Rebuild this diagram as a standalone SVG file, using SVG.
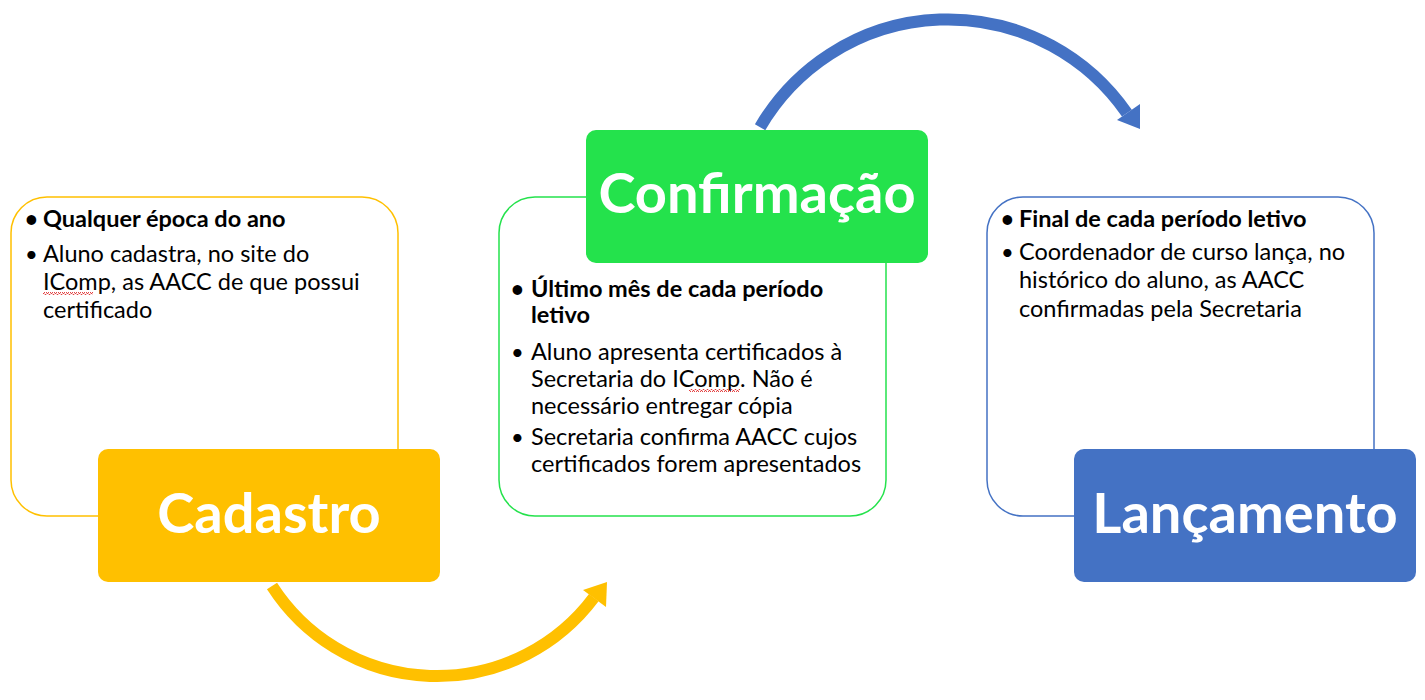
<svg xmlns="http://www.w3.org/2000/svg" width="1425" height="700" viewBox="0 0 1425 700">
<style>
.box{fill:#fff;stroke-width:1.5}
.t{font-family:Lato,"Liberation Sans",sans-serif;font-size:23.5px;fill:#000}
.b{font-weight:bold}
.u{font-size:22px}
.lbl{font-family:Lato,"Liberation Sans",sans-serif;font-size:56px;font-weight:bold;fill:#fff;text-anchor:middle}
.arc{fill:none;stroke-width:12}
</style>
<defs>
<pattern id="wave" width="4" height="3" patternUnits="userSpaceOnUse">
<path d="M0,2.5 L1,0.5 L2,0.5 L3,2.5 L4,2.5" fill="none" stroke="#e03030" stroke-width="0.9"/>
</pattern>
</defs>
<g id="connectors">
<path class="arc" stroke="#FFC000" d="M272,585.9 A196,196 0 0 0 593.8,597.6"/>
<polygon fill="#FFC000" points="607,582 606,607 583,590"/>
<path class="arc" stroke="#4472C4" d="M760.1,127.2 A217.6,217.6 0 0 1 1126.9,113.2"/>
<polygon fill="#4472C4" points="1140,129 1140,104 1117,120"/>
</g>
<g id="cadastro">
<rect class="box" x="11" y="197" width="387" height="319" rx="36" stroke="#FFC000"/>
<text class="t b u" x="25" y="227">•</text><text class="t b" x="43" y="227">Qualquer época do ano</text>
<text class="t u" x="25" y="262">•</text>
<text class="t" x="43" y="262">Aluno cadastra, no site do</text>
<text class="t" x="43" y="290">IComp, as AACC de que possui</text>
<text class="t" x="43" y="318">certificado</text>
<rect x="43" y="292" width="50" height="3" fill="url(#wave)"/>
<rect x="98" y="449" width="342" height="133" rx="10" fill="#FFC000"/>
<text class="lbl" x="269" y="533">Cadastro</text>
</g>
<g id="confirmacao">
<rect class="box" x="499" y="197" width="387" height="319" rx="36" stroke="#24E24C"/>
<text class="t b u" x="511" y="297">•</text>
<text class="t b" x="531" y="297">Último mês de cada período</text>
<text class="t b" x="531" y="323">letivo</text>
<text class="t u" x="511" y="360">•</text>
<text class="t" x="531" y="360">Aluno apresenta certificados à</text>
<text class="t" x="531" y="387">Secretaria do IComp. Não é</text>
<text class="t" x="531" y="414">necessário entregar cópia</text>
<rect x="689" y="389" width="51" height="3" fill="url(#wave)"/>
<text class="t u" x="511" y="445">•</text>
<text class="t" x="531" y="445">Secretaria confirma AACC cujos</text>
<text class="t" x="531" y="472">certificados forem apresentados</text>
<rect x="586" y="130" width="342" height="133" rx="10" fill="#24E24C"/>
<text class="lbl" x="757" y="213">Confirmação</text>
</g>
<g id="lancamento">
<rect class="box" x="987" y="197" width="387" height="319" rx="36" stroke="#4472C4"/>
<text class="t b u" x="1001" y="227">•</text>
<text class="t b" x="1019" y="227">Final de cada período letivo</text>
<text class="t u" x="1001" y="260">•</text>
<text class="t" x="1019" y="260">Coordenador de curso lança, no</text>
<text class="t" x="1019" y="288">histórico do aluno, as AACC</text>
<text class="t" x="1019" y="317">confirmadas pela Secretaria</text>
<rect x="1074" y="449" width="342" height="133" rx="10" fill="#4472C4"/>
<text class="lbl" x="1245" y="533">Lançamento</text>
</g>
</svg>
